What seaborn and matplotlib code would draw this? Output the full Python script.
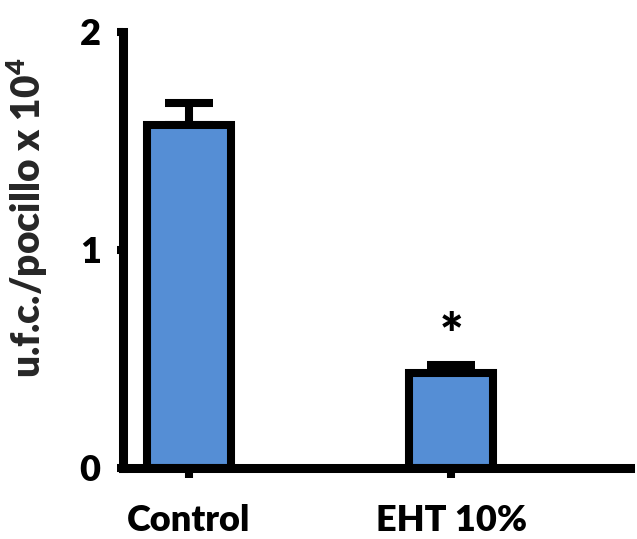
import matplotlib
matplotlib.use("Agg")
import matplotlib.pyplot as plt
import seaborn as sns
import pandas as pd

# Colony counts per well (x10^4), mean and upper error
groups = ["Control", "EHT 10%"]
means = [1.573, 0.436]
errors = [0.10, 0.035]
y_ticks = [0, 1, 2]
significance = ["", "*"]

sns.set_theme(style="white")
plt.rcParams["font.family"] = ["Lato", "DejaVu Sans"]
plt.rcParams["font.weight"] = "heavy"
plt.rcParams["mathtext.fontset"] = "custom"
plt.rcParams["mathtext.bf"] = "Lato:heavy"

WEIGHT = "heavy"

df = pd.DataFrame({"group": groups, "mean": means})

fig = plt.figure(figsize=(6.37, 5.39), dpi=100)
ax = fig.add_axes([0.193, 0.132, 0.796, 0.809])

# error whiskers (upper only) drawn underneath the bars
ax.errorbar(range(len(groups)), means, yerr=[[0] * len(errors), errors],
            fmt="none", ecolor="black", elinewidth=5.8, capsize=17,
            capthick=5.8, zorder=1)

sns.barplot(data=df, x="group", y="mean", color="#558ED5", saturation=1,
            width=0.32, edgecolor="black", linewidth=5.8, errorbar=None,
            ax=ax, zorder=2)

for i, (m, e, s) in enumerate(zip(means, errors, significance)):
    if s:
        ax.text(i, m + e + 0.13, s, ha="center", va="center",
                fontsize=40, fontweight=WEIGHT, color="black")

ax.set_xlim(-0.25, 1.68)
ax.set_ylim(0, 2)
ax.set_yticks(y_ticks)
ax.set_yticklabels([str(t) for t in y_ticks])
ax.set_xlabel("")
ax.set_ylabel("u.f.c./pocillo x 10$^{\\mathbf{4}}$", fontsize=28,
              fontweight=WEIGHT)
ax.yaxis.set_label_coords(-0.145, 0.573)

for side in ["top", "right"]:
    ax.spines[side].set_visible(False)
for side in ["left", "bottom"]:
    ax.spines[side].set_linewidth(6.5)
    ax.spines[side].set_color("black")

ax.tick_params(axis="y", direction="out", length=4, width=5.8,
               labelsize=26, pad=12, colors="black", left=True)
ax.tick_params(axis="x", direction="out", length=7, width=5.8,
               labelsize=26, pad=19, colors="black", bottom=True)
for lbl in ax.get_xticklabels() + ax.get_yticklabels():
    lbl.set_fontweight(WEIGHT)

fig.savefig("out.png", dpi=100)
